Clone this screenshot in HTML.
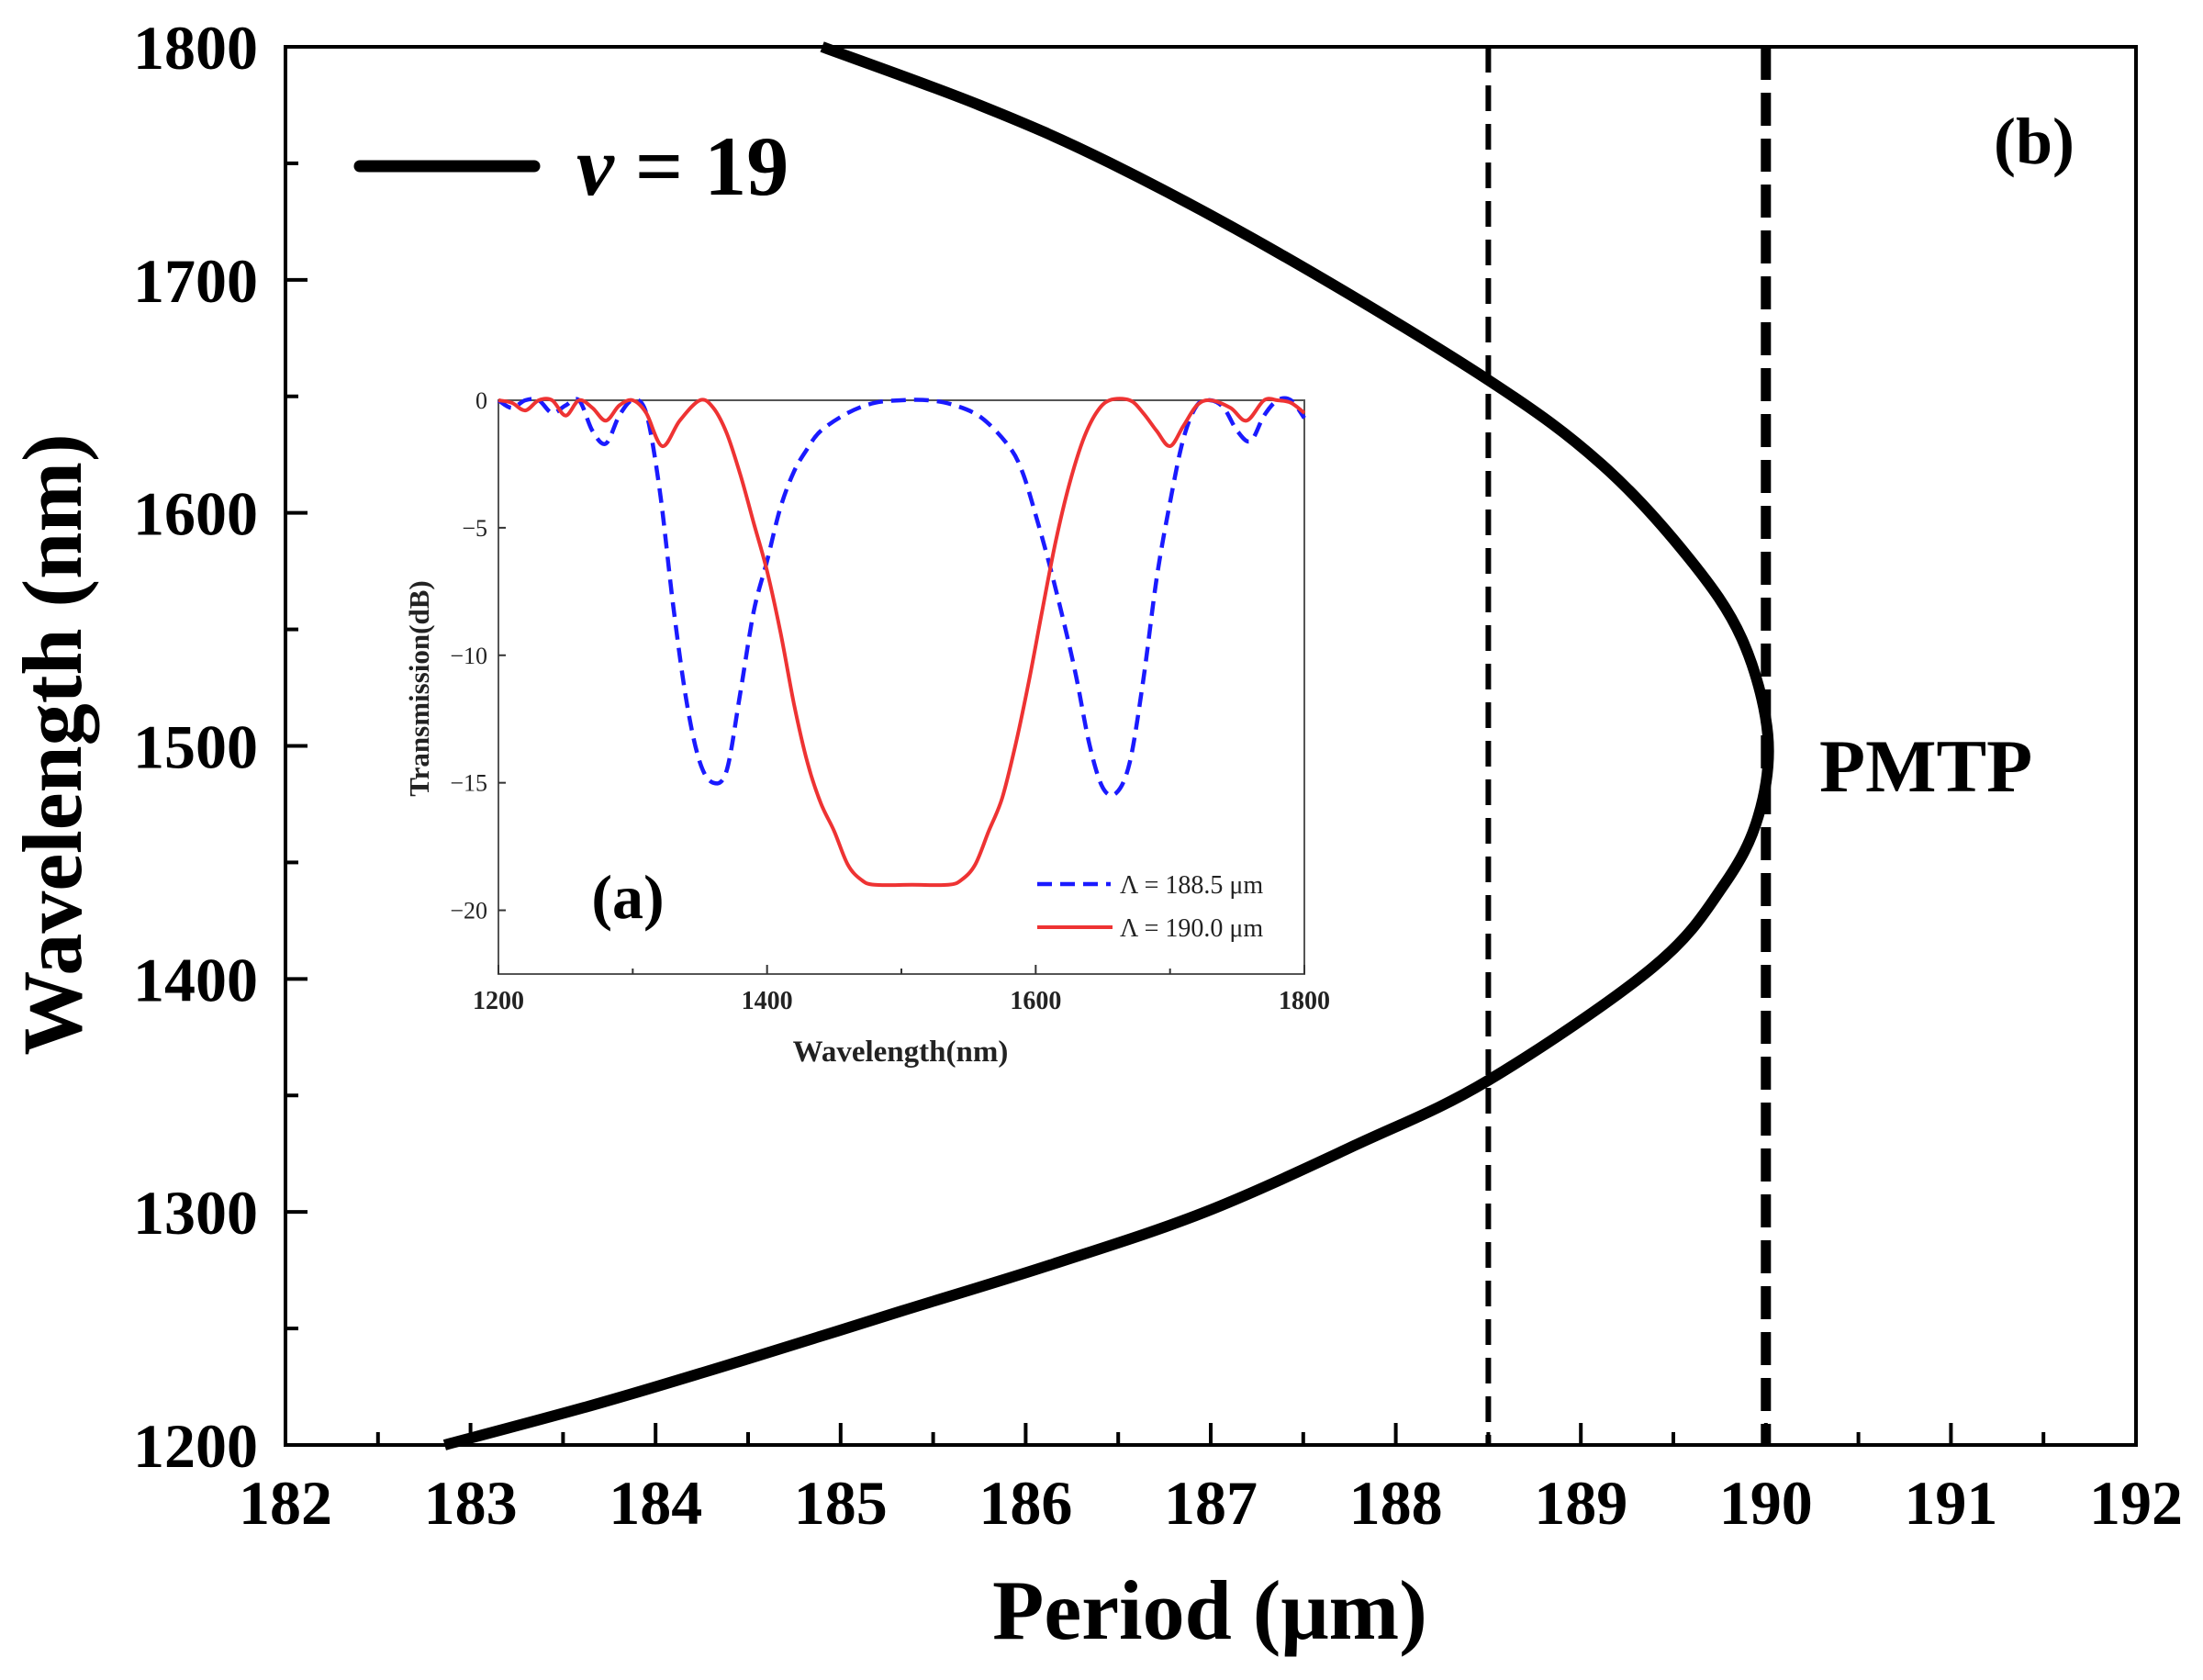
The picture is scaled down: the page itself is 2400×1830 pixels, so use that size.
<!DOCTYPE html>
<html><head><meta charset="utf-8"><style>
html,body{margin:0;padding:0;background:#fff;}
svg{display:block;}
text{font-family:"Liberation Serif",serif;}
</style></head><body>
<svg id="chart" width="2400" height="1830" viewBox="0 0 2400 1830" xmlns="http://www.w3.org/2000/svg"></svg>
<script>
// main chart data
const mainWavelengths = [1200,1218,1237,1257.5,1277.7,1300,1329,1356.5,1405,1440,1470,1505,1546,1581,1621,1657,1710,1750,1775,1800];
const mainPeriods = [182.86,183.7,184.5,185.33,186.15,186.97,187.79,188.5,189.39,189.77,189.96,190.01,189.87,189.58,189.11,188.5,187.4,186.46,185.75,184.9];
const xTicks = [182,183,184,185,186,187,188,189,190,191,192];
const yTicks = [1200,1300,1400,1500,1600,1700,1800];
const dashedPeriods = [188.5, 190.0];
// inset data
const insetTicksX = [1200,1400,1600,1800];
const insetTicksY = [0,-5,-10,-15,-20];
const blueX = [1200,1210,1220,1230,1240,1250,1260,1270,1280,1290,1300,1310,1320,1330,1340,1350,1360,1370,1380,1390,1400,1410,1420,1430,1440,1460,1480,1500,1520,1540,1560,1580,1590,1600,1610,1620,1630,1640,1650,1660,1670,1680,1690,1700,1710,1720,1730,1740,1750,1760,1770,1780,1790,1800];
const blueY = [0,-0.3,0,0,-0.5,-0.2,0,-1.2,-1.7,-0.6,0,-0.5,-3.5,-8,-11.8,-14.2,-15,-14.5,-11.5,-8.3,-6.3,-4.2,-2.8,-1.9,-1.2,-0.5,-0.1,0,0,-0.2,-0.7,-1.8,-2.8,-4.5,-6.4,-8.5,-10.8,-13.5,-15.2,-15.4,-14.2,-11,-7,-4,-1.5,-0.2,0,-0.3,-1.2,-1.6,-0.6,0,0,-0.7];
const redX = [1200,1210,1220,1230,1240,1250,1260,1270,1280,1290,1300,1310,1322,1335,1350,1360,1370,1380,1390,1400,1410,1420,1430,1440,1450,1460,1470,1480,1508,1535,1545,1555,1565,1575,1585,1595,1605,1615,1625,1635,1645,1655,1670,1680,1690,1700,1710,1720,1730,1745,1757,1770,1780,1790,1800];
const redY = [0,-0.1,-0.4,0,0,-0.6,0,-0.3,-0.8,-0.2,0,-0.5,-1.8,-0.8,0,-0.3,-1.3,-2.9,-4.8,-6.7,-9.1,-11.9,-14.2,-15.8,-16.9,-18.2,-18.8,-19,-19,-19,-18.8,-18.2,-16.9,-15.6,-13.5,-11,-8.2,-5.5,-3.3,-1.6,-0.5,0,0,-0.5,-1.2,-1.8,-1,-0.2,0,-0.3,-0.8,0,0,-0.1,-0.5];

const NS='http://www.w3.org/2000/svg';
const svg=document.getElementById('chart');
function mk(tag,attrs,parent){const e=document.createElementNS(NS,tag);for(const k in attrs)e.setAttribute(k,attrs[k]);(parent||svg).appendChild(e);return e;}
function smooth(pts){let d='M'+pts[0][0].toFixed(1)+','+pts[0][1].toFixed(1);
 for(let i=0;i<pts.length-1;i++){const p0=pts[Math.max(0,i-1)],p1=pts[i],p2=pts[i+1],p3=pts[Math.min(pts.length-1,i+2)];
 const c1=[p1[0]+(p2[0]-p0[0])/6,p1[1]+(p2[1]-p0[1])/6],c2=[p2[0]-(p3[0]-p1[0])/6,p2[1]-(p3[1]-p1[1])/6];
 d+=' C'+c1[0].toFixed(1)+','+c1[1].toFixed(1)+' '+c2[0].toFixed(1)+','+c2[1].toFixed(1)+' '+p2[0].toFixed(1)+','+p2[1].toFixed(1);}return d;}

const L=311,R=2327,T=51,B=1574;
const xs=v=>L+(v-182)/(192-182)*(R-L);
const ys=v=>B-(v-1200)/(1800-1200)*(B-T);

const curve=mk('path',{d:smooth(mainWavelengths.map((w,i)=>[xs(mainPeriods[i]),ys(w)])),fill:'none',stroke:'#000','stroke-width':12});


dashedPeriods.forEach((p,i)=>{const l=mk('line',{x1:xs(p),x2:xs(p),y1:T,y2:B,stroke:'#000','stroke-width':i?11:6,'stroke-dasharray':i?'36,14':'28,14'});
 
 });

const fr=mk('rect',{x:L,y:T,width:R-L,height:B-T,fill:'none',stroke:'#000','stroke-width':4});


for(let v=182;v<=192;v+=0.5){const maj=Number.isInteger(v);mk('line',{x1:xs(v),x2:xs(v),y1:B,y2:B-(maj?24:14),stroke:'#000','stroke-width':4});}
xTicks.forEach(v=>{const t=mk('text',{x:xs(v),y:B+86,'font-size':68,'font-weight':'bold','text-anchor':'middle'});t.textContent=v;
 
 });
for(let v=1200;v<=1800;v+=50){const maj=v%100===0;mk('line',{x1:L,x2:L+(maj?24:14),y1:ys(v),y2:ys(v),stroke:'#000','stroke-width':4});}
yTicks.forEach(v=>{const t=mk('text',{x:L-30,y:ys(v)+24,'font-size':68,'font-weight':'bold','text-anchor':'end'});t.textContent=v;
 
 });
const xt=mk('text',{x:1318,y:1785,'font-size':92,'font-weight':'bold','text-anchor':'middle'});xt.textContent='Period (μm)';


const yt=mk('text',{x:0,y:0,'font-size':92,'font-weight':'bold','text-anchor':'middle',transform:'translate(88,811) rotate(-90)'});yt.textContent='Wavelength (nm)';



const ll=mk('line',{x1:392,x2:582,y1:181,y2:181,stroke:'#000','stroke-width':13,'stroke-linecap':'round'});


const lt=mk('text',{x:628,y:212,'font-size':92,'font-weight':'bold'});lt.innerHTML='<tspan font-style="italic">ν</tspan> = 19';


const lb=mk('text',{x:2216,y:178,'font-size':72,'font-weight':'bold','text-anchor':'middle'});lb.textContent='(b)';


const pm=mk('text',{x:1982,y:862,'font-size':82,'font-weight':'bold'});pm.textContent='PMTP';



const IL=543,IR=1421,IT=436,IB=1061;
const ixs=v=>IL+(v-1200)/600*(IR-IL);
const iys=v=>IT+(0-v)/22.5*(IB-IT);
const ib=mk('rect',{x:IL,y:IT,width:IR-IL,height:IB-IT,fill:'#fff',stroke:'#555','stroke-width':2});


for(let v=1200;v<=1800;v+=100){mk('line',{x1:ixs(v),x2:ixs(v),y1:IB,y2:IB-(v%200===0?10:6),stroke:'#333','stroke-width':2});}
insetTicksX.forEach(v=>{const t=mk('text',{x:ixs(v),y:IB+38,'font-size':28,'font-weight':'bold','text-anchor':'middle',fill:'#222'});t.textContent=v;
 
 });
insetTicksY.forEach(v=>{mk('line',{x1:IL,x2:IL+8,y1:iys(v),y2:iys(v),stroke:'#333','stroke-width':2});
 const t=mk('text',{x:IL-12,y:iys(v)+9,'font-size':26,'text-anchor':'end',fill:'#222'});t.textContent=v===0?'0':'−'+(-v);
 
 });
const bl=mk('path',{d:smooth(blueX.map((x,i)=>[ixs(x),iys(blueY[i])])),fill:'none',stroke:'#1a1aff','stroke-width':4.5,'stroke-dasharray':'16,9'});


const rd=mk('path',{d:smooth(redX.map((x,i)=>[ixs(x),iys(redY[i])])),fill:'none',stroke:'#ee3333','stroke-width':4});


const ixt=mk('text',{x:981,y:1156,'font-size':33,'font-weight':'bold','text-anchor':'middle',fill:'#222'});ixt.textContent='Wavelength(nm)';


const iyt=mk('text',{x:0,y:0,'font-size':31,'font-weight':'bold','text-anchor':'middle',fill:'#222',transform:'translate(467,750) rotate(-90)'});iyt.textContent='Transmission(dB)';


const al=mk('text',{x:684,y:1000,'font-size':68,'font-weight':'bold','text-anchor':'middle'});al.textContent='(a)';


const lg1=mk('line',{x1:1130,x2:1210,y1:963,y2:963,stroke:'#1a1aff','stroke-width':4.5,'stroke-dasharray':'16,9'});


const lg2=mk('line',{x1:1130,x2:1212,y1:1010,y2:1010,stroke:'#ee3333','stroke-width':4});


const lt1=mk('text',{x:1220,y:973,'font-size':28,fill:'#222'});lt1.textContent='Λ = 188.5 μm';


const lt2=mk('text',{x:1220,y:1020,'font-size':28,fill:'#222'});lt2.textContent='Λ = 190.0 μm';


</script>
</body></html>
